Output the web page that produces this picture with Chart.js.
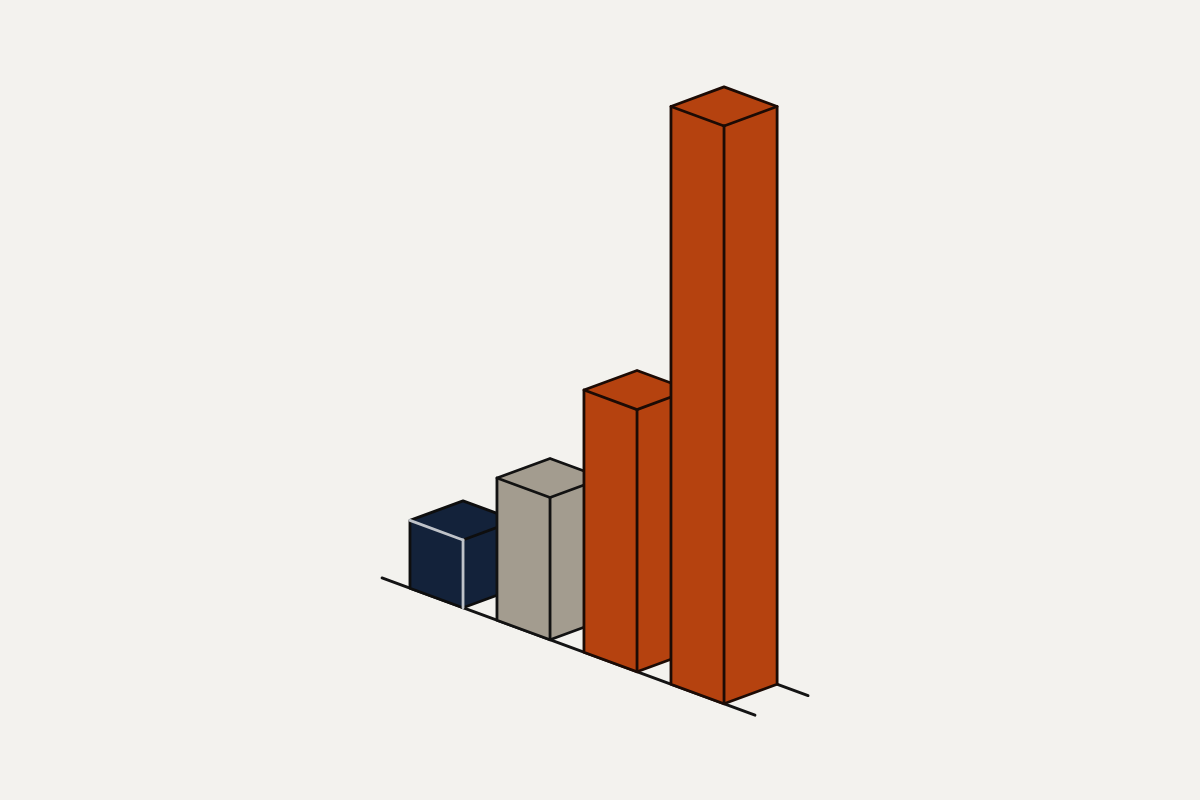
<!DOCTYPE html>
<html>
<head>
<meta charset="utf-8">
<script src="https://cdn.jsdelivr.net/npm/chart.js@4.4.1/dist/chart.umd.min.js"></script>
<style>
  html, body { margin: 0; padding: 0; background: #f3f2ee; }
  #wrap { width: 1200px; height: 800px; }
</style>
</head>
<body>
<div id="wrap"><canvas id="chart" width="1200" height="800"></canvas></div>
<script>
// data (no labels shown in the reference)
const categories = ['A', 'B', 'C', 'D']
const values = [11.3, 23.7, 43.7, 96.3]

const fillColors = ['#13223a', '#a39c8f', '#b5420f', '#b5420f']
const edgeColors = ['#0e0e0e', '#121212', '#1c0b05', '#1c0b05']
const innerEdgeColors = ['#bfc3c9', '#121212', '#1c0b05', '#1c0b05']

const SLOPE = 0.368 // isometric rise per px
const LW = 2.8

// draws each bar as an isometric box, using the bar element's own x / y / base / width
const isoBars = {
	id: 'isoBars',
	beforeDatasetsDraw(chart) {
		const { ctx, chartArea } = chart
		const ox = (chartArea.left + chartArea.right) / 2
		const pt = (u, d, yc) => [u + d, yc + SLOPE * (u - ox) - SLOPE * d]
		const meta = chart.getDatasetMeta(0)
		const depth = meta.data[0].width

		const poly = (pts, fill, stroke) => {
			ctx.beginPath()
			pts.forEach((p, i) => (i ? ctx.lineTo(p[0], p[1]) : ctx.moveTo(p[0], p[1])))
			ctx.closePath()
			if (fill) {
				ctx.fillStyle = fill
				ctx.fill()
			}
			if (stroke) {
				ctx.strokeStyle = stroke
				ctx.lineWidth = LW
				ctx.stroke()
			}
		}
		const seg = (a, b, color) => {
			ctx.beginPath()
			ctx.moveTo(a[0], a[1])
			ctx.lineTo(b[0], b[1])
			ctx.strokeStyle = color
			ctx.lineWidth = LW
			ctx.stroke()
		}

		ctx.save()
		ctx.lineJoin = 'round'
		ctx.lineCap = 'round'

		// ground strip: front and back lines
		const base = chartArea.bottom
		const u0 = chartArea.left - 11
		const u1 = chartArea.right + 14
		seg(pt(u0, depth, base), pt(u1, depth, base), '#141414')
		seg(pt(u0, 0, base), pt(u1, 0, base), '#141414')

		meta.data.forEach((el, i) => {
			const { x, y, base: b, width } = el.getProps(['x', 'y', 'base', 'width'], true)
			const uL = x - width / 2
			const uR = x + width / 2
			const d = width
			const fill = fillColors[i]
			const edge = edgeColors[i]
			const inner = innerEdgeColors[i]

			const fBL = pt(uL, 0, b), fBR = pt(uR, 0, b), fTR = pt(uR, 0, y), fTL = pt(uL, 0, y)
			const rBR = pt(uR, d, b), rTR = pt(uR, d, y)
			const bTL = pt(uL, d, y)

			// faces
			poly([fBL, fBR, fTR, fTL], fill)
			poly([fBR, rBR, rTR, fTR], fill)
			poly([fTL, fTR, rTR, bTL], fill)

			// outer silhouette, then the edges inside it
			poly([fBL, fBR, rBR, rTR, bTL, fTL], null, edge)
			seg(fTR, rTR, edge)
			seg(fTL, fTR, inner)
			seg(fTR, fBR, inner)
		})
		ctx.restore()
		return false
	},
}

const chart = new Chart(document.getElementById('chart'), {
	type: 'bar',
	data: {
		labels: categories,
		datasets: [
			{
				data: values,
				backgroundColor: fillColors,
				categoryPercentage: 1,
				barPercentage: 0.61,
			},
		],
	},
	options: {
		responsive: false,
		animation: false,
		events: [],
		layout: {
			padding: { left: 393, right: 459, top: 46, bottom: 154 },
		},
		plugins: {
			legend: { display: false },
			tooltip: { enabled: false },
		},
		scales: {
			x: { display: false },
			y: { display: false, min: 0, max: 100 },
		},
	},
	plugins: [isoBars],
})
</script>
</body>
</html>
